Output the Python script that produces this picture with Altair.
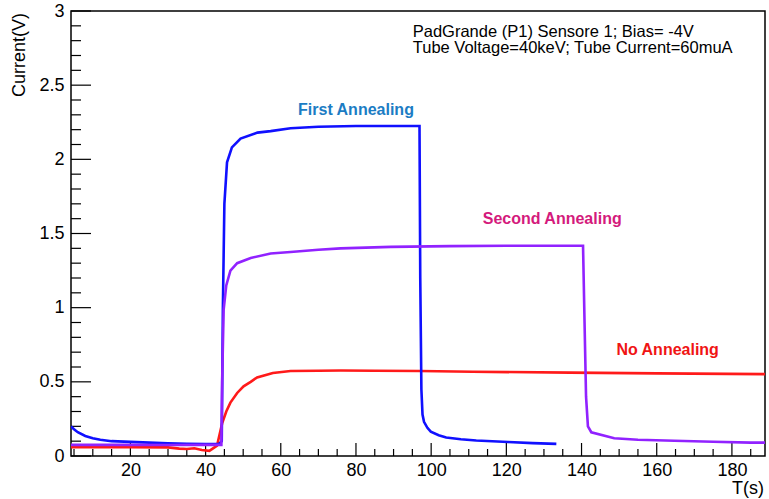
import altair as alt
import pandas as pd

# ---------------- data ----------------
blue_t = [4.2, 5, 6, 8, 10, 12, 15, 20, 25, 30, 35, 40, 43.5, 44.3, 44.6, 45.0, 45.7, 47.0,
          49.3, 53.8, 57.3, 62.6, 70, 80, 90, 96.9, 97.1, 97.4, 97.7, 98.1, 99.0, 99.9,
          102, 104, 107.9, 112, 120.5, 127, 133.3]
blue_v = [0.20, 0.18, 0.16, 0.135, 0.12, 0.11, 0.10, 0.095, 0.09, 0.085, 0.082, 0.08, 0.08,
          0.10, 1.0, 1.7, 1.98, 2.08, 2.14, 2.18, 2.19, 2.21, 2.22, 2.225, 2.225, 2.225,
          1.2, 0.45, 0.28, 0.23, 0.19, 0.164, 0.14, 0.125, 0.113, 0.105, 0.094, 0.087, 0.082]

purple_t = [4.2, 10, 20, 30, 40, 44.2, 44.4, 44.8, 45.5, 46.6, 48.4, 52, 57.3, 62.6, 70,
            75.9, 89.3, 105, 120, 140.4, 140.8, 141.2, 141.7, 142.6, 148.7, 155, 164.7,
            175, 185, 188.8]
purple_v = [0.075, 0.075, 0.075, 0.074, 0.075, 0.075, 0.5, 0.985, 1.15, 1.25, 1.30, 1.335,
            1.365, 1.375, 1.39, 1.40, 1.41, 1.415, 1.417, 1.417, 0.9, 0.4, 0.2, 0.16, 0.12,
            0.11, 0.103, 0.096, 0.09, 0.09]

red_t = [4.2, 10, 20, 30, 33, 35, 37, 39, 41, 43.05, 44.4, 45.5, 46.6, 48.4, 50.1, 52,
         53.7, 57.9, 62.6, 70, 76, 85, 97, 111, 137, 160, 188.8]
red_v = [0.06, 0.06, 0.06, 0.058, 0.05, 0.047, 0.052, 0.04, 0.035, 0.07, 0.22, 0.30, 0.36,
         0.425, 0.47, 0.50, 0.53, 0.56, 0.573, 0.575, 0.576, 0.575, 0.573, 0.568, 0.562,
         0.557, 0.552]

series_names = ["No Annealing", "First Annealing", "Second Annealing"]
series_colors = ["#ff1a1a", "#1010ff", "#9122ff"]

label_text = ["First Annealing", "Second Annealing", "No Annealing"]
label_t = [80.0, 132.2, 162.9]
label_v = [2.33, 1.60, 0.715]
label_colors = ["#1b7cc4", "#d41a7c", "#f01414"]

info_lines = ["PadGrande (P1) Sensore 1; Bias= -4V",
              "Tube Voltage=40keV; Tube Current=60muA"]
info_t = [95.1, 95.1]
info_v = [2.86, 2.75]

x_major = [20, 40, 60, 80, 100, 120, 140, 160, 180]
x_minor = [v for v in range(5, 190, 5) if v % 20 != 0]
y_major = [0, 0.5, 1, 1.5, 2, 2.5, 3]
y_minor = [round(i * 0.1, 1) for i in range(1, 30) if i % 5 != 0]

x_domain = [4.2, 188.8]
y_domain = [0, 3]
W, H = 694, 445
FONT = "Liberation Sans"

# ---------------- tables ----------------
df = pd.concat([
    pd.DataFrame({"t": red_t, "v": red_v, "s": series_names[0]}),
    pd.DataFrame({"t": blue_t, "v": blue_v, "s": series_names[1]}),
    pd.DataFrame({"t": purple_t, "v": purple_v, "s": series_names[2]}),
])

xs = alt.Scale(domain=x_domain, nice=False, zero=False)
ys = alt.Scale(domain=y_domain, nice=False, zero=False)

x_axis = alt.Axis(values=x_major, ticks=False, domain=False, grid=False, title=None,
                  labelFont=FONT, labelFontSize=18, labelColor="black", labelPadding=5,
                  labelFlush=False, format="d")
y_axis = alt.Axis(values=y_major, ticks=False, domain=False, grid=False, title=None,
                  labelFont=FONT, labelFontSize=18, labelColor="black", labelPadding=7,
                  labelFlush=False, format="~g")


def X():
    return alt.X("t:Q", scale=xs, axis=x_axis)


def Y():
    return alt.Y("v:Q", scale=ys, axis=y_axis)


layers = []
for i, name in enumerate(series_names):
    layers.append(
        alt.Chart(df).transform_filter(alt.datum.s == name)
        .mark_line(color=series_colors[i], strokeWidth=2.6, clip=True, interpolate="linear")
        .encode(x=X(), y=Y(), order="t:Q")
    )

# inward ticks (ROOT style)
xmaj = alt.Chart(pd.DataFrame({"t": x_major})).mark_rule(color="black", strokeWidth=1.2).encode(
    x=X(), y=alt.value(H), y2=alt.value(H - 13))
xmin = alt.Chart(pd.DataFrame({"t": x_minor})).mark_rule(color="black", strokeWidth=1.2).encode(
    x=X(), y=alt.value(H), y2=alt.value(H - 7))
ymaj = alt.Chart(pd.DataFrame({"v": y_major})).mark_rule(color="black", strokeWidth=1.2).encode(
    y=Y(), x=alt.value(0), x2=alt.value(20))
ymin = alt.Chart(pd.DataFrame({"v": y_minor})).mark_rule(color="black", strokeWidth=1.2).encode(
    y=Y(), x=alt.value(0), x2=alt.value(10))

labels = alt.Chart(pd.DataFrame({"t": label_t, "v": label_v, "txt": label_text, "c": label_colors})).mark_text(
    font=FONT, fontSize=16, fontWeight="bold", align="center", baseline="middle").encode(
    x=X(), y=Y(), text="txt:N", color=alt.Color("c:N", scale=None))

info = alt.Chart(pd.DataFrame({"t": info_t, "v": info_v, "txt": info_lines})).mark_text(
    font=FONT, fontSize=16.5, align="left", baseline="middle", color="black").encode(
    x=X(), y=Y(), text="txt:N")

xtitle = alt.Chart(pd.DataFrame({"txt": ["T(s)"]})).mark_text(
    font=FONT, fontSize=18, align="right", baseline="middle", color="black").encode(
    x=alt.value(W - 1), y=alt.value(H + 33), text="txt:N")

ytitle = alt.Chart(pd.DataFrame({"txt": ["Current(V)"]})).mark_text(
    font=FONT, fontSize=18, align="right", baseline="alphabetic", angle=270, color="black").encode(
    x=alt.value(-46), y=alt.value(2), text="txt:N")

chart = alt.layer(xmin, xmaj, ymin, ymaj, *layers, labels, info, xtitle, ytitle).properties(
    width=W, height=H,
    autosize=alt.AutoSizeParams(type="none"),
    padding={"left": 71, "top": 11, "right": 4, "bottom": 43},
    background="white",
).configure_view(stroke="black", strokeWidth=1.5)

chart.save("out.html", embed_options={"renderer": "svg", "actions": False})
